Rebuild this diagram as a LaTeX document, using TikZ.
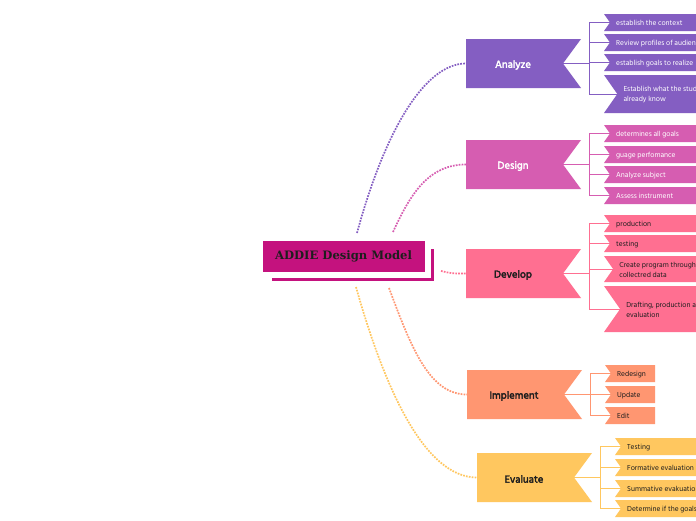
\documentclass[tikz,border=0pt]{standalone}
\usepackage{fontspec}
\newfontfamily\subf{Hind Siliguri}
\newfontfamily\topf{Hind Siliguri}[FakeBold=3]
\newfontfamily\ctrf{DejaVu Serif}
\definecolor{cA}{HTML}{845EC2}
\definecolor{cD}{HTML}{D65DB1}
\definecolor{cV}{HTML}{FF6F91}
\definecolor{cI}{HTML}{FF9671}
\definecolor{cE}{HTML}{FFC75F}
\definecolor{cC}{HTML}{C4127E}
\definecolor{tdark}{HTML}{1E1E1E}
\tikzset{
  subtxt/.style={anchor=west, inner sep=0pt, align=left, font=\subf\fontsize{7.4}{10}\selectfont},
  toptxt/.style={inner sep=0pt, font=\topf\fontsize{10.6}{12}\selectfont},
  dotl/.style={line width=1.7pt, dash pattern=on 1.7pt off 1.2pt},
  brl/.style={line width=0.9pt},
}
\newcommand\stopic[8]{%
  \pgfmathsetmacro\stdepth{0.35*(#4-#3)}%
  \pgfmathsetmacro\stmid{(#3+#4)/2}%
  \fill[#6] (#2,#3) -- (#5,#3) -- (#5,#4) -- (#2,#4) -- ({#2+\stdepth},\stmid) -- cycle;
  \coordinate (#1) at ({#2+\stdepth},\stmid);
  \node[subtxt, text=#7] (#1-t) at ({#2+\stdepth+6},{\stmid+0.8}) {#8};
}
\newcommand\mtopic[6]{%
  \fill[#4] (#2,#3) -- ({#2+115},#3) -- ({#2+97},{#3+24.5}) -- ({#2+115},{#3+49}) -- (#2,{#3+49}) -- cycle;
  \coordinate (#1-n) at ({#2+97},{#3+24.5});
  \coordinate (#1-w) at (#2,{#3+24.5});
  \node[toptxt, text=#5] (#1) at ({#2+47},{#3+26}) {#6};
}
\begin{document}
\begin{tikzpicture}[x=1pt, y=-1pt]
\useasboundingbox (0,0) rectangle (696,520);
\clip (0,0) rectangle (696,520);
\fill[white] (0,0) rectangle (696,520);

% central topic
\draw[cC, line width=3pt] (272,279.5) -| (432.5,249);
\node[fill=cC, draw=white, line width=0.4pt, minimum width=163pt, minimum height=32pt, inner sep=0pt,
      font=\ctrf\bfseries\fontsize{11.6}{13}\selectfont, text=tdark] (ctr) at (343.5,256) {ADDIE Design Model};

% main topics
\mtopic{A}{466}{39}{cA}{white}{Analyze}
\mtopic{D}{466}{140}{cD}{white}{Design}
\mtopic{V}{466}{249}{cV}{tdark}{Develop}
\mtopic{I}{467}{370}{cI}{tdark}{Implement}
\mtopic{E}{477}{453}{cE}{tdark}{Evaluate}

% curve start coordinates
\coordinate (c1) at (357,233);
\coordinate (c2) at (393,232);
\coordinate (c3) at (441,271);
\coordinate (c4) at (389,288);
\coordinate (c5) at (356,287);

\draw[dotl, cA] (c1) .. controls (385,130) and (425,63.5) .. (A-w);
\draw[dotl, cD] (c2) .. controls (410,195) and (428,164.5) .. (D-w);
\draw[dotl, cV] (c3) .. controls (452,273.5) .. (V-w);
\draw[dotl, cI] (c4) .. controls (412,350) and (430,394.5) .. (I-w);
\draw[dotl, cE] (c5) .. controls (385,390) and (425,477.5) .. (E-w);

% subtopics: Analyze
\stopic{A1}{604}{14}{31}{720}{cA}{white}{establish the context}
\stopic{A2}{604}{34}{51}{720}{cA}{white}{Review profiles of audience}
\stopic{A3}{604}{54}{71}{720}{cA}{white}{establish goals to realize}
\stopic{A4}{604}{75}{113}{720}{cA}{white}{Establish what the students\\already know}
% Design
\stopic{D1}{604}{125}{142}{720}{cD}{white}{determines all goals}
\stopic{D2}{604}{146}{163}{720}{cD}{white}{guage perfomance}
\stopic{D3}{604}{166}{183}{720}{cD}{white}{Analyze subject}
\stopic{D4}{604}{187}{204}{720}{cD}{white}{Assess instrument}
% Develop
\stopic{V1}{604}{215}{232}{720}{cV}{tdark}{production}
\stopic{V2}{604}{235}{252}{720}{cV}{tdark}{testing}
\stopic{V3}{604}{256}{282}{720}{cV}{tdark}{Create program through\\collectred data}
\stopic{V4}{604}{286}{332}{720}{cV}{tdark}{Drafting, production and\\evaluation}
% Implement
\stopic{I1}{605}{365}{382}{655}{cI}{tdark}{Redesign}
\stopic{I2}{605}{386}{403}{655}{cI}{tdark}{Update}
\stopic{I3}{605}{407}{424}{655}{cI}{tdark}{Edit}
% Evaluate
\stopic{E1}{615}{438}{455}{720}{cE}{tdark}{Testing}
\stopic{E2}{615}{459}{476}{720}{cE}{tdark}{Formative evaluation}
\stopic{E3}{615}{480}{497}{720}{cE}{tdark}{Summative evakuation}
\stopic{E4}{615}{500}{517}{720}{cE}{tdark}{Determine if the goals}

% brackets
\foreach \s in {A1,A2,A3,A4} \draw[brl, cA] (A-n) -- ++(26,0) |- (\s);
\foreach \s in {D1,D2,D3,D4} \draw[brl, cD] (D-n) -- ++(26,0) |- (\s);
\foreach \s in {V1,V2,V3,V4} \draw[brl, cV] (V-n) -- ++(26,0) |- (\s);
\foreach \s in {I1,I2,I3} \draw[brl, cI] (I-n) -- ++(26,0) |- (\s);
\foreach \s in {E1,E2,E3,E4} \draw[brl, cE] (E-n) -- ++(26,0) |- (\s);
\end{tikzpicture}
\end{document}
